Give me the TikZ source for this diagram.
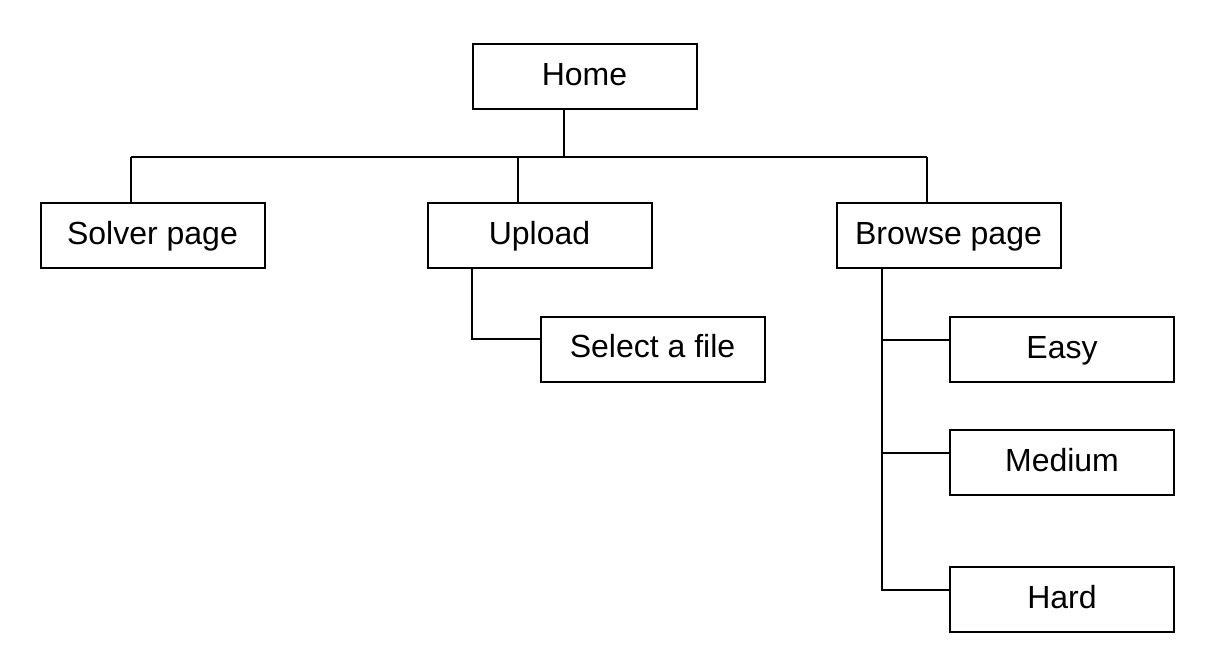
\documentclass[tikz,border=0pt]{standalone}
\usepackage{fontspec}
\setmainfont{Liberation Sans}
\usetikzlibrary{positioning}

\tikzset{
  page/.style={draw, line width=1pt, minimum width=112pt, minimum height=32.5pt,
    inner sep=0pt, text height=11.5pt, text depth=3pt,
    font=\fontsize{16}{19}\selectfont},
  link/.style={line width=1pt}
}

\begin{document}
\begin{tikzpicture}[x=0.5pt, y=-0.5pt]
  \useasboundingbox (0,0) rectangle (1211,655);

  % Draw the pages
  \node[page] (home)   at (584.5, 76.5)  {Home};
  \node[page] (solver) at (152.5, 235.5) {Solver page};
  \node[page] (upload) at (539.5, 235.5) {Upload};
  \node[page] (browse) at (948.5, 235.5) {Browse page};
  \node[page] (select) at (652.5, 349)   {Select a file};
  \node[page] (easy)   at (1062, 349.5)  {Easy};
  \node[page] (medium) at (1062, 462.5)  {Medium};
  \node[page] (hard)   at (1062, 599.5)  {Hard};

  % Bus under home
  \coordinate (bus)  at (564,157);
  \coordinate (busL) at (131,157);
  \coordinate (busU) at (518,157);
  \coordinate (busR) at (927,157);
  \draw[link] (home.south -| bus) -- (bus);
  \draw[link] (busL) -- (busR);
  \draw[link] (busL) -- (solver.north -| busL);
  \draw[link] (busU) -- (upload.north -| busU);
  \draw[link] (busR) -- (browse.north -| busR);

  % Upload branch
  \draw[link] ([xshift=-33.75pt]upload.south) |- ([yshift=5pt]select.west);

  % Browse branch
  \coordinate (trunk) at ([xshift=-33.25pt]browse.south);
  \foreach \lvl in {easy,medium,hard} {
    \draw[link] (trunk) |- ([yshift=5pt]\lvl.west);
  }
\end{tikzpicture}
\end{document}
